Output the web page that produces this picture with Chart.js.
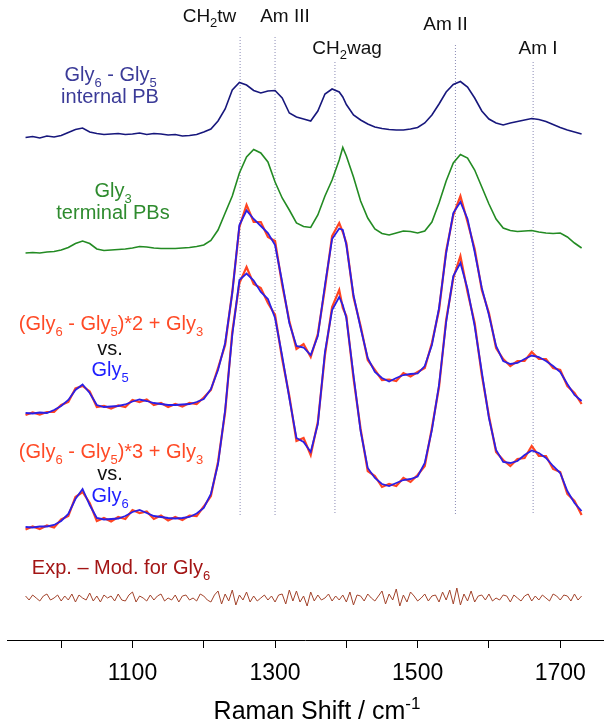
<!DOCTYPE html>
<html><head><meta charset="utf-8">
<script src="https://cdn.jsdelivr.net/npm/chart.js@4.4.1/dist/chart.umd.min.js"></script>
<style>html,body{margin:0;padding:0;background:#fff;}#wrap{width:611px;height:728px;}</style>
</head><body><div id="wrap"><canvas id="c" width="611" height="728"></canvas></div>
<script>
// Raman shift sampling (cm-1)
const shift = [950,960,970,980,990,1000,1010,1020,1030,1040,
1050,1060,1070,1080,1090,1100,1110,1120,1130,1140,
1150,1160,1170,1180,1190,1200,1210,1220,1230,1240,
1250,1260,1270,1280,1290,1300,1310,1320,1330,1340,
1350,1360,1370,1380,1390,1395,
1400,1410,1420,1430,1440,1450,1460,1470,1480,1490,
1500,1510,1520,1530,1540,1550,1560,1570,1580,1590,
1600,1610,1620,1630,1640,1650,1660,1670,1680,1690,
1700,1710,1720,1730];

// Gly6 - Gly5 (internal PB)
const gly6MinusGly5 = [2.5,3.5,2,4,3,4.5,7.5,10.5,12,8,
6.5,5.5,6,6.5,5.5,6,7,5.5,6.5,6,
5,5.5,4,4.5,5.5,8,11,19,31,50,
57.5,55,49.5,47,49,49.5,42,27,23,21,
19,29,46,51,48,43,
35.5,25,20,16,13,11.5,10.5,10,10,11,
12.5,17,25,36,48,55.5,58.5,53,42,29,
21,17,15,17,18.5,20,21.5,20.5,18.5,15.5,
12.5,10,8,6];

// Gly3 (terminal PBs)
const gly3 = [2,2.5,2,3,3.5,5,7.5,11.5,14,11.5,
6,4.5,5,5.5,6,7,8.5,8,7,6.5,
6.5,6.5,7,7.5,8.5,10,14.5,25,42,59,
82,98,105.5,102,93,73,57,45,32,28.5,
27.5,40,59,75,95,107.5,
99,78,54,37,26,21.5,20,22,24,23.5,
22,24,33,52,74,92,100.5,97,85,68,
51,36,27,24.5,23.5,24,24.5,23,22,21.5,
22,18,12,7];

// (Gly6 - Gly5)*2 + Gly3 model
const model2 = [0,2.5,0.5,3,3,10,13,26.5,29,23.5,
8,9,6.5,9.5,8,15,13,15.5,10,12,
8,11,8.5,12,11,17.5,25,47,70,123,
188,210,193,193,178,174,130,94,66,71,
58,81,127,179,192,183,
172,118,89,55,45,35,35.5,34,42,38.5,
43,47,72,105,164,200,219,193,166,125,
102,67,56,49,54,54,63,56,56,47,
45,29,22,11];

// Gly5 experimental
const gly5 = [2,1.5,2.5,2,5,9,15,25,30.5,22,
10,8,8.5,9,10.5,13.5,15.5,14,12,11,
10,10,10.5,11,13,16,26,45,72,122,
190,204.5,196,189,182,170,133,92,69,67.5,
60,79,130,176,186.5,185,
170,120,87,57,43,37,33.5,37,40,41,
41.5,49,70,107,162,202,213,196,163,127,
100,69,54,51,52,56,59.5,58,54,49,
43,31,20,14];

// (Gly6 - Gly5)*3 + Gly3 model
const model3 = [0.5,3.5,1,4.5,2.5,10.5,14,33,38,27,
9,12,8.5,13,11,20,17,18.5,11,14.5,
9.5,13,10,14.5,14,23.5,34,68,118,198,
247,263,246,242,227,215,171,134,89,92,
75,108,175,223,240,222,
214,152,101,59,54,43,46,44,52,48,
55,64,102,143,210,252,274,238,207,155,
114,78,70,64,71,72,84,74,74,61,
58,36,29,15];

// Gly6 experimental
const gly6 = [3,2.5,3.5,3.5,5,9,16,31,41,25,
12,10.5,11,11.5,14,18,20,17,14,13,
12,11.5,12,13,16.5,22,36,66,120,195,
250,256.5,249.5,238,231,212,174,132,92,88,
78,106,178,220,233,225,
212,155,99,62,52,46,44,47,50,51,
53.5,67,100,145,208,254,267,241,204,158,
112,80,68,67,69,75,79.5,77,72,64,
57,39,27,19];

// Residual sampling and values (Exp. - Mod. for Gly6)
const residShift = [950,955,960,965,970,975,980,985,990,995,1000,1005,1010,1015,1020,1025,1030,1035,1040,1045,
1050,1055,1060,1065,1070,1075,1080,1085,1090,1095,1100,1105,1110,1115,1120,1125,1130,1135,1140,1145,
1150,1155,1160,1165,1170,1175,1180,1185,1190,1195,1200,1205,1210,1215,1220,1225,1230,1235,1240,1245,
1250,1255,1260,1265,1270,1275,1280,1285,1290,1295,1300,1305,1310,1315,1320,1325,1330,1335,1340,1345,
1350,1355,1360,1365,1370,1375,1380,1385,1390,1395,1400,1405,1410,1415,1420,1425,1430,1435,1440,1445,
1450,1455,1460,1465,1470,1475,1480,1485,1490,1495,1500,1505,1510,1515,1520,1525,1530,1535,1540,1545,
1550,1555,1560,1565,1570,1575,1580,1585,1590,1595,1600,1605,1610,1615,1620,1625,1630,1635,1640,1645,
1650,1655,1660,1665,1670,1675,1680,1685,1690,1695,1700,1705,1710,1715,1720,1725,1730];
const residual = [2,-2,3,0,-3,2,4,-2,0,3,-3,2,-2,4,-4,3,0,-2,5,-3,
2,-4,3,0,2,-3,4,-2,-3,3,6,-4,2,0,-3,3,-2,2,4,-3,
0,-2,3,-4,2,3,-2,0,-3,4,2,-2,-4,3,7,-6,4,-3,8,-7,
3,-2,6,-4,2,-3,0,3,-2,2,-4,3,4,-6,8,-3,7,-4,2,-8,
6,-3,3,-2,0,4,-3,2,-2,3,-4,6,-7,3,2,-3,4,0,-3,2,
7,-6,4,-2,9,-8,3,-4,6,2,-3,0,4,-3,2,3,-4,6,-2,8,
-6,10,-7,4,-3,7,-4,2,3,-2,4,-3,0,-2,3,2,-4,3,0,-3,
2,4,-3,2,-2,3,0,-3,4,2,-2,3,2,-3,4,-2,2];

// Band markers (cm-1) and upper end of their dotted guide lines
const bandShift = [1251, 1300, 1384, 1553, 1662];
const bandTop = [603, 603, 578, 595, 578];
const bandBottom = 125;

// Axis ticks
const tickValues = [1000,1100,1200,1300,1400,1500,1600,1700];
const tickLabels = [1100,1300,1500,1700];

// Vertical stacking offsets of the traces
const offsets = {internal: 500, terminal: 385, pair2: 225, pair3: 110, resid: 42};

const FAM = '"Liberation Sans", Arial, Helvetica, sans-serif';

function pts(xs, ys, off) { return xs.map((x, i) => ({x: x, y: ys[i] + off})); }

// rich text: _{..} subscript, ^{..} superscript
function parseRich(s) {
  const parts = []; let i = 0; let buf = '';
  while (i < s.length) {
    if ((s[i] === '_' || s[i] === '^') && s[i+1] === '{') {
      if (buf) { parts.push([buf, 'n']); buf = ''; }
      const end = s.indexOf('}', i);
      parts.push([s.slice(i+2, end), s[i] === '_' ? 'sub' : 'sup']);
      i = end + 1;
    } else { buf += s[i]; i++; }
  }
  if (buf) parts.push([buf, 'n']);
  return parts;
}
function drawRich(ctx, text, cx, cy, size, color) {
  const parts = parseRich(text);
  const small = Math.round(size * 0.66);
  ctx.save();
  ctx.fillStyle = color; ctx.textAlign = 'left'; ctx.textBaseline = 'alphabetic';
  let w = 0;
  const ws = parts.map(p => { ctx.font = (p[1] === 'n' ? size : small) + 'px ' + FAM; const m = ctx.measureText(p[0]).width; w += m; return m; });
  let x = cx - w / 2;
  const base = cy + size * 0.36;
  parts.forEach((p, k) => {
    ctx.font = (p[1] === 'n' ? size : small) + 'px ' + FAM;
    const dy = p[1] === 'sub' ? size * 0.27 : (p[1] === 'sup' ? -size * 0.4 : 0);
    ctx.fillText(p[0], x, base + dy);
    x += ws[k];
  });
  ctx.restore();
}

const textLabels = [
  {t: 'CH_{2}tw', x: 209.5, y: 15, s: 19, c: '#111'},
  {t: 'Am III', x: 285, y: 15, s: 19, c: '#111'},
  {t: 'CH_{2}wag', x: 347, y: 47, s: 19, c: '#111'},
  {t: 'Am II', x: 445.5, y: 23, s: 19, c: '#111'},
  {t: 'Am I', x: 538, y: 47, s: 19, c: '#111'},
  {t: 'Gly_{6} - Gly_{5}', x: 110.5, y: 74, s: 20, c: '#3b3b98'},
  {t: 'internal PB', x: 110, y: 96, s: 20, c: '#3b3b98'},
  {t: 'Gly_{3}', x: 113, y: 190, s: 20, c: '#2e8b2e'},
  {t: 'terminal PBs', x: 113, y: 212, s: 20, c: '#2e8b2e'},
  {t: '(Gly_{6} - Gly_{5})*2 + Gly_{3}', x: 111, y: 323, s: 20, c: '#ff4a26'},
  {t: 'vs.', x: 110, y: 348, s: 20, c: '#111'},
  {t: 'Gly_{5}', x: 110, y: 369, s: 20, c: '#1f1fff'},
  {t: '(Gly_{6} - Gly_{5})*3 + Gly_{3}', x: 111, y: 451, s: 20, c: '#ff4a26'},
  {t: 'vs.', x: 110, y: 473, s: 20, c: '#111'},
  {t: 'Gly_{6}', x: 110, y: 495, s: 20, c: '#1f1fff'},
  {t: 'Exp. \u2013 Mod. for Gly_{6}', x: 121, y: 567, s: 20, c: '#a31515'},
  {t: 'Raman Shift / cm^{-1}', x: 317, y: 710, s: 25, c: '#000'}
];

const labelPlugin = {
  id: 'richLabels',
  afterDraw(chart) {
    const ctx = chart.ctx;
    textLabels.forEach(L => drawRich(ctx, L.t, L.x, L.y, L.s, L.c));
  }
};

const datasets = [];
bandShift.forEach((b, i) => {
  datasets.push({data: [{x: b, y: bandTop[i]}, {x: b, y: bandBottom}], borderColor: '#8a8ab4', borderWidth: 1, borderDash: [1, 2], pointRadius: 0, order: 5});
});
datasets.push({data: pts(shift, gly6MinusGly5, offsets.internal), borderColor: '#17177c', borderWidth: 1.6, pointRadius: 0, order: 3});
datasets.push({data: pts(shift, gly3, offsets.terminal), borderColor: '#238b23', borderWidth: 1.6, pointRadius: 0, order: 3});
datasets.push({data: pts(shift, model2, offsets.pair2), borderColor: '#ff4422', borderWidth: 2.2, pointRadius: 0, order: 2});
datasets.push({data: pts(shift, gly5, offsets.pair2), borderColor: '#2a1fe6', borderWidth: 1.8, pointRadius: 0, order: 1});
datasets.push({data: pts(shift, model3, offsets.pair3), borderColor: '#ff4422', borderWidth: 2.2, pointRadius: 0, order: 2});
datasets.push({data: pts(shift, gly6, offsets.pair3), borderColor: '#2a1fe6', borderWidth: 1.8, pointRadius: 0, order: 1});
datasets.push({data: pts(residShift, residual, offsets.resid), borderColor: '#a2432b', borderWidth: 1, pointRadius: 0, order: 3});

new Chart(document.getElementById('c'), {
  type: 'line',
  data: {datasets: datasets},
  options: {
    responsive: false,
    animation: false,
    layout: {padding: {left: 7, right: 8, top: 0, bottom: 0}},
    plugins: {legend: {display: false}, tooltip: {enabled: false}},
    scales: {
      x: {
        type: 'linear', min: 924, max: 1760,
        afterBuildTicks: (scale) => { scale.ticks = tickValues.map(v => ({value: v})); },
        afterFit: (scale) => { scale.height = 88; },
        ticks: {
          autoSkip: false, maxRotation: 0, color: '#000', padding: 12,
          font: {family: FAM, size: 23},
          callback: (v) => tickLabels.includes(v) ? String(v) : ''
        },
        grid: {drawOnChartArea: false, drawTicks: true, tickLength: 8, color: '#000', tickWidth: 1},
        border: {display: true, color: '#000', width: 1}
      },
      y: {display: false, min: 0, max: 640}
    }
  },
  plugins: [labelPlugin]
});
</script>
</body></html>
